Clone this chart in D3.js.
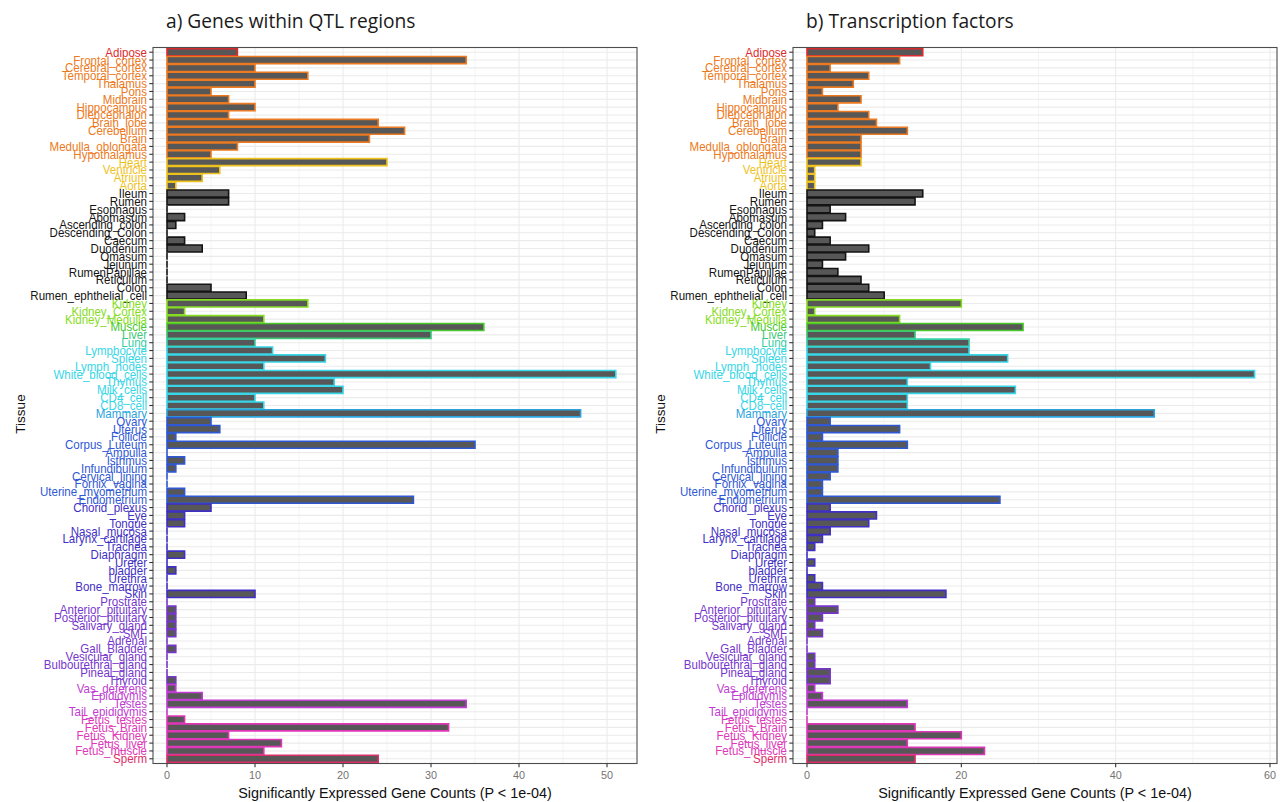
<!DOCTYPE html>
<html>
<head>
<meta charset="utf-8">
<script src="https://cdn.jsdelivr.net/npm/d3@7"></script>
<style>
  body { margin: 0; background: #fff; }
  text { font-family: "Liberation Sans", Arial, sans-serif; }
  .title { font-family: "Open Sans", "Liberation Sans", sans-serif; }
</style>
</head>
<body>
<svg id="chart" width="1288" height="802"></svg>
<script>
// Tissues, top to bottom
const tissues = [
  "Adipose", "Frontal_cortex", "Cerebral_cortex", "Temporal_cortex", "Thalamus", "Pons",
  "Midbrain", "Hippocampus", "Diencephalon", "Brain_lobe", "Cerebellum", "Brain",
  "Medulla_oblongata", "Hypothalamus", "Heart", "Ventricle", "Atrium", "Aorta",
  "Ileum", "Rumen", "Esophagus", "Abomasum", "Ascending_colon", "Descending_Colon",
  "Caecum", "Duodenum", "Omasum", "Jejunum", "RumenPapillae", "Reticulum", "Colon",
  "Rumen_ephthelial_cell", "Kidney", "Kidney_Cortex", "Kidney_Medulla", "Muscle", "Liver",
  "Lung", "Lymphocyte", "Spleen", "Lymph_nodes", "White_blood_cells", "Thymus",
  "Milk_cells", "CD4_cell", "CD8_cell", "Mammary", "Ovary", "Uterus", "Follicle",
  "Corpus_Luteum", "Ampulla", "Isthmus", "Infundibulum", "Cervical_lining", "Fornix_vagina",
  "Uterine_myometrium", "Endometrium", "Chorid_plexus", "Eye", "Tongue", "Nasal_mucosa",
  "Larynx_cartilage", "Trachea", "Diaphragm", "Ureter", "bladder", "Urethra", "Bone_marrow",
  "Skin", "Prostrate", "Anterior_pituitary", "Posterior_pituitary", "Salivary_gland", "SMF",
  "Adrenal", "Gall_Bladder", "Vesicular_gland", "Bulbourethral_gland", "Pineal_gland",
  "Thyroid", "Vas_deferens", "Epididymis", "Testes", "Tail_epididymis", "Fetus_testes",
  "Fetus_Brain", "Fetus_Kidney", "Fetus_liver", "Fetus_muscle", "Sperm"
];

// Tissue system of each tissue (same order)
const tissueSystem = [
  "adipose",
  "brain", "brain", "brain", "brain", "brain", "brain", "brain", "brain", "brain", "brain", "brain", "brain", "brain",
  "heart", "heart", "heart", "heart",
  "gut", "gut", "gut", "gut", "gut", "gut", "gut", "gut", "gut", "gut", "gut", "gut", "gut", "gut",
  "kidney", "kidney", "kidney",
  "muscle", "liver", "lung",
  "immune", "immune", "immune", "immune", "immune", "immune", "immune", "immune",
  "mammary",
  "female", "female", "female", "female", "female", "female", "female", "female", "female", "female", "female",
  "other", "other", "other", "other", "other", "other", "other", "other", "other", "other", "other", "other",
  "gland", "gland", "gland", "gland", "gland", "gland", "gland", "gland", "gland", "gland", "gland",
  "male", "male", "male", "male",
  "fetus", "fetus", "fetus", "fetus", "fetus",
  "sperm"
];

// a) genes within QTL regions
const qtlCounts = [
  8, 34, 10, 16, 10, 5, 7, 10, 7, 24, 27, 23, 8, 5,
  25, 6, 4, 1,
  7, 7, 0, 2, 1, 0, 2, 4, 0, 0, 0, 0, 5, 9,
  16, 2, 11, 36, 30, 10,
  12, 18, 11, 51, 19, 20, 10, 11,
  47,
  5, 6, 1, 35, 0, 2, 1, 0, 0, 2, 28,
  5, 2, 2, 0, 0, 0, 2, 0, 1, 0, 0, 10,
  0, 1, 1, 1, 1, 0, 1, 0, 0, 0, 1,
  1, 4, 34, 0,
  2, 32, 7, 13, 11,
  24
];

// b) transcription factors
const tfCounts = [
  15, 12, 3, 8, 6, 2, 7, 4, 8, 9, 13, 7, 7, 7,
  7, 1, 1, 1,
  15, 14, 3, 5, 2, 1, 3, 8, 5, 2, 4, 7, 8, 10,
  20, 1, 12, 28, 14, 21,
  21, 26, 16, 58, 13, 27, 13, 13,
  45,
  3, 12, 2, 13, 4, 4, 4, 3, 2, 2, 25,
  3, 9, 8, 3, 2, 1, 0, 1, 0, 1, 2, 18,
  1, 4, 2, 1, 2, 0, 0, 1, 1, 3, 3,
  1, 2, 13, 0,
  0, 14, 20, 13, 23,
  14
];

const qtlTicks = [0, 10, 20, 30, 40, 50];
const qtlMinor = [5, 15, 25, 35, 45];
const tfTicks = [0, 20, 40, 60];
const tfMinor = [10, 30, 50];

const axisTitle = "Significantly Expressed Gene Counts (P < 1e-04)";

// colour per tissue system
const systemColour = d3.scaleOrdinal()
  .domain(["adipose", "brain", "heart", "gut", "kidney", "muscle", "liver", "lung",
           "immune", "mammary", "female", "other", "gland", "male", "fetus", "sperm"])
  .range(["#DD2A2E", "#EC7A22", "#EEC21E", "#141414", "#86DC24", "#48C82A", "#3CC878", "#36CFA6",
          "#38D6E6", "#2BA4DE", "#2F58D4", "#3F2FC4", "#7636CC", "#C03CD2", "#DE38B8", "#DE2E68"]);

const svg = d3.select("#chart");
const panelTop = 47.5, panelBottom = 763.5;

const y = d3.scaleBand()
  .domain(tissues)
  .range([panelTop, panelBottom])
  .paddingInner(0.1)
  .paddingOuter(0.15);

function drawPanel(cfg) {
  const g = svg.append("g");
  const x = d3.scaleLinear().domain(cfg.domain).range(cfg.range);
  const left = cfg.left, right = cfg.right;
  const mid = d => y(d) + y.bandwidth() / 2;

  // background grid
  const grid = g.append("g");
  grid.selectAll("line.minor").data(cfg.minor).join("line")
    .attr("x1", d => x(d)).attr("x2", d => x(d))
    .attr("y1", panelTop).attr("y2", panelBottom)
    .attr("stroke", "#EFEFEF").attr("stroke-width", 0.7);
  grid.selectAll("line.hmaj").data(tissues).join("line")
    .attr("x1", left).attr("x2", right)
    .attr("y1", mid).attr("y2", mid)
    .attr("stroke", "#EBEBEB").attr("stroke-width", 1.1);
  grid.selectAll("line.vmaj").data(cfg.ticks).join("line")
    .attr("x1", d => x(d)).attr("x2", d => x(d))
    .attr("y1", panelTop).attr("y2", panelBottom)
    .attr("stroke", "#EBEBEB").attr("stroke-width", 1.1);

  // bars (drawn as paths so that zero counts still show their outline)
  const rows = tissues.map((t, i) => ({ t, v: cfg.values[i], c: systemColour(tissueSystem[i]) }));
  g.append("g").selectAll("path").data(rows).join("path")
    .attr("d", d => {
      const x0 = x(0), x1 = x(d.v), y0 = y(d.t), h = y.bandwidth();
      return `M${x0},${y0}H${x1}V${y0 + h}H${x0}Z`;
    })
    .attr("fill", "#575757")
    .attr("stroke", d => d.c)
    .attr("stroke-width", 1.6);

  // panel border
  g.append("rect")
    .attr("x", left).attr("y", panelTop)
    .attr("width", right - left).attr("height", panelBottom - panelTop)
    .attr("fill", "none").attr("stroke", "#4D4D4D").attr("stroke-width", 1.1);

  // y axis: ticks and coloured tissue labels
  const yAx = g.append("g");
  yAx.selectAll("line").data(tissues).join("line")
    .attr("x1", left - 3.7).attr("x2", left)
    .attr("y1", mid).attr("y2", mid)
    .attr("stroke", "#333").attr("stroke-width", 1.1);
  yAx.selectAll("text").data(rows).join("text")
    .attr("transform", d => `translate(${left - 6},${mid(d.t)}) scale(0.93,1)`)
    .attr("dy", "0.36em")
    .attr("text-anchor", "end")
    .attr("font-size", 12.4)
    .attr("fill", d => d.c)
    .text(d => d.t);

  // x axis
  const xAx = g.append("g");
  xAx.selectAll("line").data(cfg.ticks).join("line")
    .attr("x1", d => x(d)).attr("x2", d => x(d))
    .attr("y1", panelBottom).attr("y2", panelBottom + 3.7)
    .attr("stroke", "#333").attr("stroke-width", 1.1);
  xAx.selectAll("text").data(cfg.ticks).join("text")
    .attr("x", d => x(d)).attr("y", panelBottom + 15.5)
    .attr("text-anchor", "middle")
    .attr("font-size", 10.8)
    .attr("fill", "#727272")
    .text(d => d);

  g.append("text")
    .attr("transform", `translate(${(left + right) / 2},797.5) scale(0.935,1)`)
    .attr("text-anchor", "middle")
    .attr("font-size", 15.4)
    .attr("fill", "#111")
    .text(axisTitle);

  g.append("text")
    .attr("transform", `translate(${cfg.yTitleX},414) rotate(-90)`)
    .attr("text-anchor", "middle")
    .attr("dy", "0.35em")
    .attr("font-size", 13.5)
    .attr("fill", "#111")
    .text("Tissue");

  g.append("text")
    .attr("class", "title")
    .attr("x", cfg.titleX).attr("y", 27.5)
    .attr("font-size", 19.2)
    .attr("fill", "#1a1a1a")
    .text(cfg.title);
}

drawPanel({
  values: qtlCounts, domain: [0, 50], range: [167, 607], left: 153, right: 637,
  ticks: qtlTicks, minor: qtlMinor, yTitleX: 20, titleX: 166,
  title: "a) Genes within QTL regions"
});

drawPanel({
  values: tfCounts, domain: [0, 60], range: [807, 1270], left: 793, right: 1277,
  ticks: tfTicks, minor: tfMinor, yTitleX: 660, titleX: 806,
  title: "b) Transcription factors"
});
</script>
</body>
</html>
